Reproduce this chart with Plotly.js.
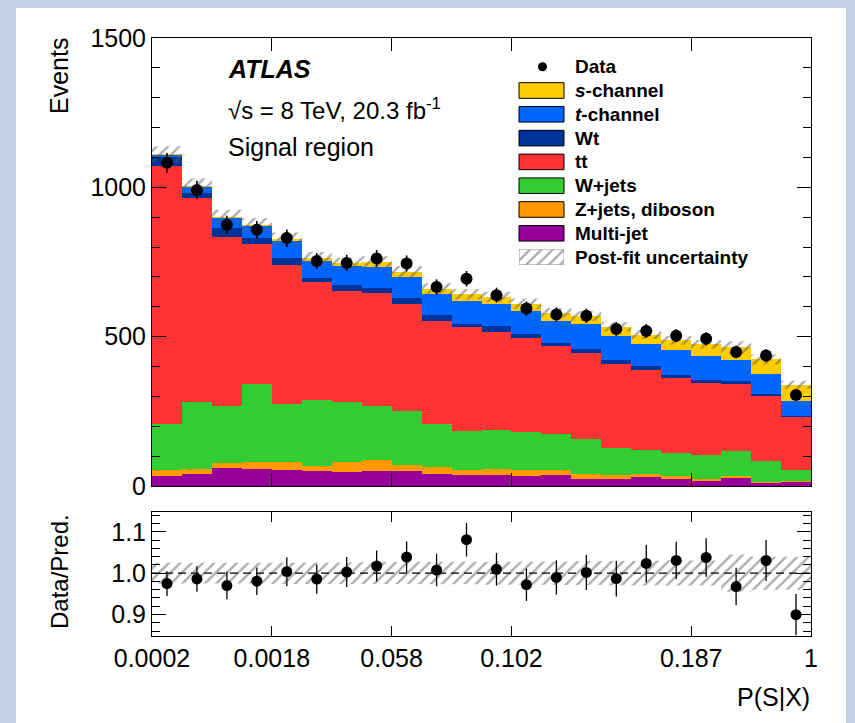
<!DOCTYPE html>
<html>
<head>
<meta charset="utf-8">
<script src="https://cdn.plot.ly/plotly-3.0.1.min.js"></script>
<style>
  html, body { margin: 0; padding: 0; background: #ffffff; }
  #chart { width: 855px; height: 723px; }
</style>
</head>
<body>
<div id="chart"></div>
<script>
// P(S|X) bin edges labelled on the x axis (22 display bins of equal width)
const edgeLabels = ['0.0002', '0.0018', '0.058', '0.102', '0.187', '1'];
const edgeIndex  = [0, 4, 8, 12, 18, 22];

// Post-fit event yields per bin, stacked bottom to top
const multijet = [34, 41, 59, 56, 52, 49, 48, 50, 49, 40, 38, 36, 34, 36, 25, 23, 30, 22, 16, 26, 9, 13];
const zjets    = [18, 17, 17, 26, 30, 17, 31, 36, 21, 25, 16, 22, 20, 18, 16, 13, 10, 10, 8, 8, 5, 4];
const wjets    = [157, 222, 192, 261, 191, 221, 201, 182, 180, 144, 129, 131, 126, 121, 118, 90, 82, 80, 79, 84, 71, 38];
const ttbar    = [863, 683, 565, 466, 467, 395, 372, 377, 359, 343, 348, 328, 314, 293, 288, 282, 265, 251, 242, 225, 215, 176];
const wt       = [29, 19, 30, 20, 22, 13, 20, 18, 19, 19, 13, 19, 16, 12, 13, 15, 14, 8, 9, 9, 9, 4];
const tchan    = [7, 20, 33, 41, 58, 59, 64, 71, 72, 71, 75, 75, 76, 73, 84, 78, 76, 83, 80, 71, 67, 48];
const schan    = [2, 3, 6, 5, 7, 10, 9, 15, 17, 19, 23, 22, 25, 27, 25, 32, 30, 34, 41, 41, 48, 56];

// Observed events and their statistical errors
const data    = [1082, 991, 875, 858, 830, 753, 747, 762, 745, 666, 694, 639, 594, 574, 570, 526, 519, 503, 493, 449, 437, 305];
const dataErr = [33, 31, 30, 29, 29, 27, 27, 28, 27, 26, 26, 25, 24, 24, 24, 23, 23, 22, 22, 21, 21, 17];

// Relative post-fit uncertainty on the total prediction
const uncFrac = [0.025, 0.025, 0.025, 0.025, 0.026, 0.026, 0.026, 0.027, 0.027, 0.027, 0.027, 0.028, 0.028, 0.028, 0.029, 0.029, 0.030, 0.031, 0.030, 0.045, 0.040, 0.040];

const nBins = data.length;
const centers = data.map((_, i) => i + 0.5);
const total = centers.map((_, i) =>
  multijet[i] + zjets[i] + wjets[i] + ttbar[i] + wt[i] + tchan[i] + schan[i]);

const FONT = 'Liberation Sans, Arial, Helvetica, sans-serif';

// Plot-area geometry in pixels, used for the text/legend helpers
const L = 152, R = 811, T = 38, B = 636;
const px = x => (x - L) / (R - L);
const py = y => (B - y) / (B - T);

// Stacked components, bottom first
const stack = [
  {name: 'Multi-jet',         y: multijet, color: '#990099'},
  {name: 'Z+jets, diboson',   y: zjets,    color: '#ff9900'},
  {name: 'W+jets',            y: wjets,    color: '#33cc33'},
  {name: 'tt',                y: ttbar,    color: '#ff3333'},
  {name: 'Wt',                y: wt,       color: '#003399'},
  {name: 't-channel',         y: tchan,    color: '#0066ff'},
  {name: 's-channel',         y: schan,    color: '#ffcc00'}
];

const hatch = {shape: '/', fgcolor: '#5a5a5a', bgcolor: 'rgba(0,0,0,0)',
               size: 8, solidity: 0.3, fillmode: 'overlay'};

// Closed step outline between lo[] and hi[] over the bins
function bandOutline(lo, hi) {
  const xs = [], ys = [];
  for (let i = 0; i < nBins; i++) { xs.push(i, i + 1); ys.push(hi[i], hi[i]); }
  for (let i = nBins - 1; i >= 0; i--) { xs.push(i + 1, i); ys.push(lo[i], lo[i]); }
  xs.push(xs[0]); ys.push(ys[0]);
  return {xs, ys};
}

const traces = [];

stack.forEach(s => traces.push({
  type: 'bar', name: s.name, x: centers, y: s.y, width: 1,
  marker: {color: s.color, line: {width: 0}},
  xaxis: 'x', yaxis: 'y', hoverinfo: 'skip', showlegend: false
}));

// Uncertainty band on the stacked total
const mainBand = bandOutline(total.map((t, i) => t * (1 - uncFrac[i])),
                             total.map((t, i) => t * (1 + uncFrac[i])));
traces.push({
  type: 'scatter', mode: 'lines', name: 'Post-fit uncertainty',
  x: mainBand.xs, y: mainBand.ys, fill: 'toself',
  fillcolor: 'rgba(0,0,0,0)', fillpattern: hatch,
  line: {width: 0, color: 'rgba(0,0,0,0)'},
  xaxis: 'x', yaxis: 'y', hoverinfo: 'skip', showlegend: false
});

// Data points
traces.push({
  type: 'scatter', mode: 'markers', name: 'Data',
  x: centers, y: data,
  marker: {color: '#000000', size: 12},
  error_y: {type: 'data', array: dataErr, visible: true, color: '#000000', thickness: 1.6, width: 0},
  xaxis: 'x', yaxis: 'y', hoverinfo: 'skip', showlegend: false
});

// Ratio panel: band and data / prediction
const ratioBand = bandOutline(uncFrac.map(u => 1 - u), uncFrac.map(u => 1 + u));
traces.push({
  type: 'scatter', mode: 'lines', name: 'Post-fit uncertainty (ratio)',
  x: ratioBand.xs, y: ratioBand.ys, fill: 'toself',
  fillcolor: 'rgba(0,0,0,0)', fillpattern: hatch,
  line: {width: 0, color: 'rgba(0,0,0,0)'},
  xaxis: 'x2', yaxis: 'y2', hoverinfo: 'skip', showlegend: false
});
traces.push({
  type: 'scatter', mode: 'markers', name: 'Data/Pred.',
  x: centers, y: data.map((d, i) => d / total[i]),
  marker: {color: '#000000', size: 11},
  error_y: {type: 'data', array: dataErr.map((e, i) => e / total[i]), visible: true,
            color: '#000000', thickness: 1.3, width: 0},
  xaxis: 'x2', yaxis: 'y2', hoverinfo: 'skip', showlegend: false
});

// Legend swatch for the hatched uncertainty, drawn on its own small axes
const legY0 = 66.7, legStep = 23.8, boxX0 = 519, boxX1 = 564, boxHalf = 7.8;
const hatchRow = 8;
traces.push({
  type: 'scatter', mode: 'lines', name: 'legend hatch',
  x: [0, 1, 1, 0, 0], y: [0, 0, 1, 1, 0], fill: 'toself',
  fillcolor: 'rgba(0,0,0,0)', fillpattern: hatch,
  line: {width: 1, color: '#a0a0a0'},
  xaxis: 'x3', yaxis: 'y3', hoverinfo: 'skip', showlegend: false
});

// Legend entries, top to bottom
const legendRows = [
  {text: '<b>Data</b>', marker: true},
  {text: '<b><i>s</i>-channel</b>', color: '#ffcc00'},
  {text: '<b><i>t</i>-channel</b>', color: '#0066ff'},
  {text: '<b>Wt</b>', color: '#003399'},
  {text: '<b>tt</b>', color: '#ff3333'},
  {text: '<b>W+jets</b>', color: '#33cc33'},
  {text: '<b>Z+jets, diboson</b>', color: '#ff9900'},
  {text: '<b>Multi-jet</b>', color: '#990099'},
  {text: '<b>Post-fit uncertainty</b>', hatch: true}
];

const shapes = [
  // white page inside the slide frame
  {type: 'rect', xref: 'paper', yref: 'paper', layer: 'below',
   x0: px(16), x1: px(846), y0: py(730), y1: py(8),
   fillcolor: '#ffffff', line: {width: 0}},
  // reference line at unity in the ratio panel
  {type: 'line', xref: 'x2', yref: 'y2', x0: 0, x1: 22, y0: 1, y1: 1,
   line: {color: '#000000', width: 1.2, dash: '8px,5px'}, layer: 'above'}
];
const annotations = [];

legendRows.forEach((row, k) => {
  const yc = legY0 + legStep * k;
  if (row.marker) {
    shapes.push({type: 'circle', xref: 'paper', yref: 'paper',
      x0: px(542.5 - 4.5), x1: px(542.5 + 4.5), y0: py(yc + 4.5), y1: py(yc - 4.5),
      fillcolor: '#000000', line: {width: 0}});
  } else if (row.color) {
    shapes.push({type: 'rect', xref: 'paper', yref: 'paper',
      x0: px(boxX0), x1: px(boxX1), y0: py(yc + boxHalf), y1: py(yc - boxHalf),
      fillcolor: row.color, line: {color: '#000000', width: 1}});
  }
  annotations.push({xref: 'paper', yref: 'paper', x: px(573), y: py(yc),
    xanchor: 'left', yanchor: 'middle', showarrow: false, text: row.text,
    font: {family: FONT, size: 19, color: '#000000'}});
});

const hatchY = legY0 + legStep * hatchRow;

annotations.push(
  {xref: 'paper', yref: 'paper', x: px(226), y: py(68.5), xanchor: 'left', yanchor: 'middle',
   showarrow: false, text: '<b><i>ATLAS</i></b>', font: {family: FONT, size: 25, color: '#000'}},
  {xref: 'paper', yref: 'paper', x: px(226), y: py(109), xanchor: 'left', yanchor: 'middle',
   showarrow: false, text: '√s = 8 TeV, 20.3 fb<sup>-1</sup>', font: {family: FONT, size: 24, color: '#000'}},
  {xref: 'paper', yref: 'paper', x: px(226), y: py(147), xanchor: 'left', yanchor: 'middle',
   showarrow: false, text: 'Signal region', font: {family: FONT, size: 25, color: '#000'}},
  {xref: 'paper', yref: 'paper', x: px(59), y: py(36), xanchor: 'center', yanchor: 'top',
   textangle: -90, showarrow: false, text: 'Events', font: {family: FONT, size: 25, color: '#000'}},
  {xref: 'paper', yref: 'paper', x: px(59), y: py(572), xanchor: 'center', yanchor: 'middle',
   textangle: -90, showarrow: false, text: 'Data/Pred.', font: {family: FONT, size: 24, color: '#000'}},
  {xref: 'paper', yref: 'paper', x: px(812), y: py(697), xanchor: 'right', yanchor: 'middle',
   showarrow: false, text: 'P(S|X)', font: {family: FONT, size: 25, color: '#000'}}
);

const axisCommon = {
  showline: true, linecolor: '#000000', linewidth: 1, mirror: 'allticks',
  ticks: 'inside', tickcolor: '#000000', tickwidth: 1,
  showgrid: false, zeroline: false, fixedrange: true,
  tickfont: {family: FONT, size: 25, color: '#000000'}
};

const layout = {
  width: 855, height: 723,
  margin: {l: L, r: 855 - R, t: T, b: 723 - B, pad: 0},
  paper_bgcolor: '#c5d0e6', plot_bgcolor: '#ffffff',
  barmode: 'stack', bargap: 0, showlegend: false,
  font: {family: FONT, size: 25, color: '#000000'},
  xaxis: Object.assign({}, axisCommon, {
    domain: [0, 1], anchor: 'y', range: [0, 22],
    tickmode: 'array', tickvals: edgeIndex, ticktext: edgeLabels,
    showticklabels: false, ticklen: 13
  }),
  yaxis: Object.assign({}, axisCommon, {
    domain: [py(486), 1], anchor: 'x', range: [0, 1500],
    tickmode: 'array', tickvals: [0, 500, 1000, 1500], ticklen: 14,
    minor: {dtick: 100, ticklen: 8, ticks: 'inside', tickcolor: '#000000', showgrid: false}
  }),
  xaxis2: Object.assign({}, axisCommon, {
    domain: [0, 1], anchor: 'y2', range: [0, 22],
    tickmode: 'array', tickvals: edgeIndex, ticktext: edgeLabels, ticklen: 10
  }),
  yaxis2: Object.assign({}, axisCommon, {
    domain: [0, py(512)], anchor: 'x2', range: [0.848, 1.148],
    tickmode: 'array', tickvals: [0.9, 1.0, 1.1], ticktext: ['0.9', '1.0', '1.1'], ticklen: 14,
    minor: {tick0: 0.9, dtick: 0.02, ticklen: 8, ticks: 'inside', tickcolor: '#000000', showgrid: false}
  }),
  xaxis3: {domain: [px(boxX0), px(boxX1)], anchor: 'y3', range: [0, 1], visible: false, fixedrange: true},
  yaxis3: {domain: [py(hatchY + boxHalf), py(hatchY - boxHalf)], anchor: 'x3', range: [0, 1], visible: false, fixedrange: true},
  shapes: shapes,
  annotations: annotations
};

Plotly.newPlot('chart', traces, layout, {staticPlot: true, displayModeBar: false});
</script>
</body>
</html>
